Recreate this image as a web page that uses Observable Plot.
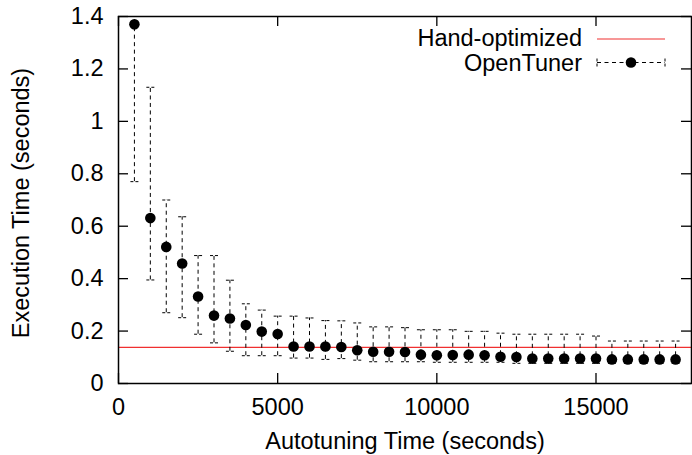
<!DOCTYPE html>
<html>
<head>
<meta charset="utf-8">
<script src="https://cdn.jsdelivr.net/npm/d3@7"></script>
<script src="https://cdn.jsdelivr.net/npm/@observablehq/plot@0.6"></script>
<style>
  html, body { margin: 0; padding: 0; background: #fff; }
</style>
</head>
<body>
<div id="chart"></div>
<script>
// ---- data ----
const autotuningTime = [500, 1000, 1500, 2000, 2500, 3000, 3500, 4000, 4500, 5000,
  5500, 6000, 6500, 7000, 7500, 8000, 8500, 9000, 9500, 10000,
  10500, 11000, 11500, 12000, 12500, 13000, 13500, 14000, 14500, 15000,
  15500, 16000, 16500, 17000, 17500];
const execMean = [1.37, 0.631, 0.521, 0.458, 0.332, 0.259, 0.248, 0.223, 0.198, 0.189,
  0.141, 0.141, 0.141, 0.139, 0.127, 0.121, 0.121, 0.120, 0.110, 0.108,
  0.109, 0.110, 0.108, 0.102, 0.101, 0.095, 0.095, 0.095, 0.095, 0.095,
  0.092, 0.092, 0.092, 0.092, 0.092];
const execLow = [0.77, 0.395, 0.270, 0.251, 0.188, 0.155, 0.123, 0.106, 0.106, 0.106,
  0.097, 0.097, 0.092, 0.095, 0.089, 0.083, 0.083, 0.083, 0.083, 0.081,
  0.081, 0.081, 0.081, 0.081, 0.077, 0.077, 0.077, 0.077, 0.077, 0.077,
  0.077, 0.077, 0.077, 0.077, 0.077];
const execHigh = [1.42, 1.13, 0.700, 0.636, 0.488, 0.488, 0.394, 0.304, 0.280, 0.257,
  0.257, 0.250, 0.240, 0.239, 0.231, 0.216, 0.216, 0.213, 0.205, 0.205,
  0.205, 0.199, 0.199, 0.192, 0.188, 0.188, 0.188, 0.188, 0.188, 0.181,
  0.162, 0.162, 0.162, 0.162, 0.162];
const handOptimized = [0.138];
const xTicks = [0, 5000, 10000, 15000];
const yTicks = [0, 0.2, 0.4, 0.6, 0.8, 1, 1.2, 1.4];
const seriesNames = ["Hand-optimized", "OpenTuner"];
const xTitle = "Autotuning Time (seconds)";
const yTitle = "Execution Time (seconds)";

const rows = autotuningTime.map((t, i) => ({t, v: execMean[i], lo: execLow[i], hi: execHigh[i]}));

// ---- layout ----
const W = 692, H = 455;
const mL = 118, mR = 1, mT = 16, mB = 72;
const plotW = W - mL - mR, plotH = H - mT - mB;
const FONT = "'Liberation Sans', Arial, Helvetica, sans-serif";
const FS = 23.5;
const RED = "#f03030";
const DASH = "4,3.5";

const capSymbol = {
  draw(context) { context.moveTo(-4, 0); context.lineTo(4, 0); }
};

const chart = Plot.plot({
  width: W, height: H,
  marginLeft: mL, marginRight: mR, marginTop: mT, marginBottom: mB,
  style: {fontFamily: FONT, fontSize: FS + "px", background: "#fff", color: "#000"},
  x: {domain: [0, 18000]},
  y: {domain: [0, 1.4]},
  marks: [
    Plot.ruleY(handOptimized, {y: d => d, stroke: RED, strokeWidth: 1.2}),
    Plot.ruleX(rows, {x: "t", y1: "lo", y2: "hi", stroke: "#000", strokeWidth: 1, strokeDasharray: DASH, clip: true}),
    Plot.dot(rows, {x: "t", y: "lo", symbol: capSymbol, r: 4, fill: "none", stroke: "#000", strokeWidth: 1, strokeDasharray: "3,2", clip: true}),
    Plot.dot(rows, {x: "t", y: "hi", symbol: capSymbol, r: 4, fill: "none", stroke: "#000", strokeWidth: 1, strokeDasharray: "3,2", clip: true}),
    Plot.dot(rows, {x: "t", y: "v", r: 5.3, fill: "#000", stroke: "none"}),
    // inward ticks on all four sides
    Plot.tickX(xTicks, {x: d => d, insetTop: plotH - 10, stroke: "#000", strokeWidth: 1.3}),
    Plot.tickX(xTicks, {x: d => d, insetBottom: plotH - 10, stroke: "#000", strokeWidth: 1.3}),
    Plot.tickY(yTicks, {y: d => d, insetRight: plotW - 10, stroke: "#000", strokeWidth: 1.3}),
    Plot.tickY(yTicks, {y: d => d, insetLeft: plotW - 10, stroke: "#000", strokeWidth: 1.3}),
    Plot.frame({stroke: "#000", strokeWidth: 1.5}),
    Plot.axisX(xTicks, {tickSize: 0, tickPadding: 15, tickFormat: d3.format("d"), label: null, fontSize: FS, fill: "#000"}),
    Plot.axisY(yTicks, {tickSize: 0, tickPadding: 15, tickFormat: d3.format("~f"), label: null, fontSize: FS, fill: "#000"}),
    Plot.text([xTitle], {text: d => d, frameAnchor: "bottom", textAnchor: "middle", lineAnchor: "top", dy: 49, fontSize: FS, fill: "#000"}),
    Plot.text([yTitle], {text: d => d, frameAnchor: "left", textAnchor: "middle", lineAnchor: "top", rotate: -90, dx: -106, dy: 3, fontSize: FS, fill: "#000"})
  ]
});

// ---- legend (inside plot, top right) ----
const svg = d3.select(chart);
const leg = svg.append("g").attr("font-family", FONT).attr("font-size", FS);
const textRight = 582, sx1 = 597, sx2 = 665, rowY = [38, 62.5];
leg.append("text").attr("x", textRight).attr("y", rowY[0]).attr("dy", "0.35em")
  .attr("text-anchor", "end").attr("fill", "#000").text(seriesNames[0]);
leg.append("line").attr("x1", sx1).attr("x2", sx2).attr("y1", rowY[0] + 1).attr("y2", rowY[0] + 1)
  .attr("stroke", RED).attr("stroke-width", 1.2);
leg.append("text").attr("x", textRight).attr("y", rowY[1]).attr("dy", "0.35em")
  .attr("text-anchor", "end").attr("fill", "#000").text(seriesNames[1]);
leg.append("line").attr("x1", sx1).attr("x2", sx2).attr("y1", rowY[1]).attr("y2", rowY[1])
  .attr("stroke", "#000").attr("stroke-width", 1).attr("stroke-dasharray", DASH);
[sx1, sx2].forEach(x => leg.append("line").attr("x1", x).attr("x2", x)
  .attr("y1", rowY[1] - 4).attr("y2", rowY[1] + 4)
  .attr("stroke", "#000").attr("stroke-width", 1).attr("stroke-dasharray", "3,2"));
leg.append("circle").attr("cx", (sx1 + sx2) / 2).attr("cy", rowY[1]).attr("r", 5.3).attr("fill", "#000");

document.getElementById("chart").appendChild(chart);
</script>
</body>
</html>
